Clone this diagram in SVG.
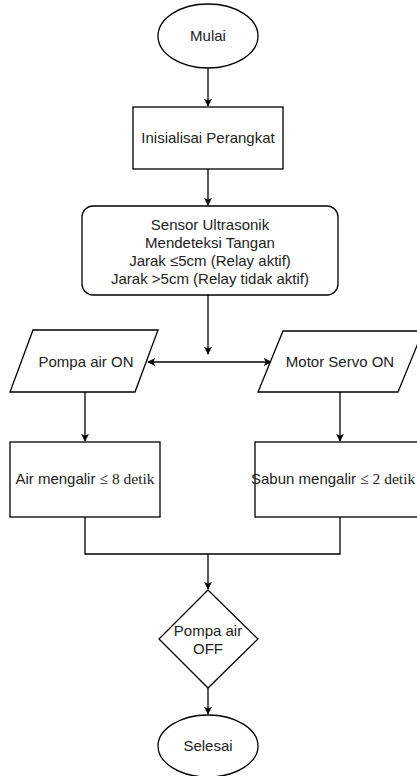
<svg xmlns="http://www.w3.org/2000/svg" width="417" height="776" viewBox="0 0 417 776">
<style>
.s{fill:#fff;stroke:#000;stroke-width:1.3}
.c{fill:none;stroke:#000;stroke-width:1.3}
text{font-family:"Liberation Sans",Arial,sans-serif;font-size:15px;fill:#222;text-anchor:middle}
.sf{font-family:"Liberation Serif","Times New Roman",serif;font-size:15.5px}
</style>
<defs>
<marker id="a" viewBox="0 0 10 10" refX="9" refY="5" markerWidth="8" markerHeight="8" markerUnits="userSpaceOnUse" orient="auto-start-reverse">
<path d="M0,0 L10,5 L0,10 L2.5,5 Z" fill="#000"/>
</marker>
</defs>
<rect width="417" height="776" fill="#fff"/>
<g id="connectors">
<line class="c" x1="208" y1="68" x2="208" y2="106" marker-end="url(#a)"/>
<line class="c" x1="208" y1="169" x2="208" y2="205" marker-end="url(#a)"/>
<line class="c" x1="208" y1="295" x2="208" y2="354" marker-end="url(#a)"/>
<line class="c" x1="148" y1="362" x2="271" y2="362" marker-start="url(#a)" marker-end="url(#a)"/>
<line class="c" x1="85" y1="392" x2="85" y2="441" marker-end="url(#a)"/>
<line class="c" x1="340" y1="392" x2="340" y2="441" marker-end="url(#a)"/>
<polyline class="c" points="85,517 85,554 340,554 340,517"/>
<line class="c" x1="208" y1="554" x2="208" y2="589" marker-end="url(#a)"/>
<line class="c" x1="208" y1="688" x2="208" y2="714" marker-end="url(#a)"/>
</g>
<g id="mulai">
<ellipse class="s" cx="208" cy="36" rx="50" ry="32"/>
<text x="208" y="41">Mulai</text>
</g>
<g id="inisialisasi">
<rect class="s" x="133" y="107" width="150" height="62"/>
<text x="208" y="143">Inisialisai Perangkat</text>
</g>
<g id="sensor">
<rect class="s" x="82" y="206" width="256" height="89" rx="11"/>
<text x="210" y="230">Sensor Ultrasonik</text>
<text x="210" y="248">Mendeteksi Tangan</text>
<text x="210" y="266">Jarak ≤5cm (Relay aktif)</text>
<text x="210" y="284">Jarak &gt;5cm (Relay tidak aktif)</text>
</g>
<g id="pompa-on">
<polygon class="s" points="33,330 158,330 135,392 10,392"/>
<text x="86" y="367">Pompa air ON</text>
</g>
<g id="servo-on">
<polygon class="s" points="283,331 423,331 398,392 258,392"/>
<text x="340" y="367">Motor Servo ON</text>
</g>
<g id="air-mengalir">
<rect class="s" x="10" y="442" width="150" height="75"/>
<text x="85" y="484">Air mengalir <tspan class="sf">≤ 8 detik</tspan></text>
</g>
<g id="sabun-mengalir">
<rect class="s" x="255" y="442" width="170" height="75"/>
<text x="251" y="484" style="text-anchor:start">Sabun mengalir <tspan class="sf">≤ 2 detik</tspan></text>
</g>
<g id="pompa-off">
<polygon class="s" points="208,590 258,639 208,688 159,639"/>
<text x="208" y="636">Pompa air</text>
<text x="208" y="654">OFF</text>
</g>
<g id="selesai">
<ellipse class="s" cx="208" cy="746" rx="50" ry="31"/>
<text x="208" y="751">Selesai</text>
</g>
</svg>
